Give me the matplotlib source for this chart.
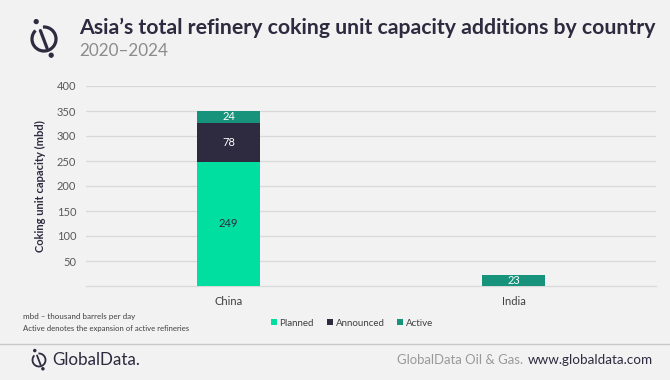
import matplotlib
matplotlib.use("Agg")
import matplotlib.pyplot as plt
from matplotlib.patches import Arc, Circle
from matplotlib.lines import Line2D

countries = ["China", "India"]
planned = [249, 0]
announced = [78, 0]
active = [24, 23]
yticks = [50, 100, 150, 200, 250, 300, 350, 400]

c_planned = "#00dea0"
c_announced = "#2e2a3f"
c_active = "#16937a"
bg = "#f2f2f2"

plt.rcParams['font.family'] = ['Lato', 'DejaVu Sans']

W, H = 670, 380
fig = plt.figure(figsize=(6.7, 3.8), dpi=100, facecolor=bg)
renderer = fig.canvas.get_renderer()

def fx(px): return px / W
def fy(py): return 1 - py / H

def fit(t, width_px):
    bb = t.get_window_extent(renderer=renderer)
    t.set_fontsize(t.get_fontsize() * width_px / bb.width)
    return t

ax = fig.add_axes([fx(86), fy(286), fx(656) - fx(86), fy(86) - fy(286)])
ax.set_facecolor(bg)
x = list(range(len(countries)))
bw = 0.22
ax.bar(x, planned, bw, color=c_planned, label="Planned", zorder=3)
ax.bar(x, announced, bw, bottom=planned, color=c_announced, label="Announced", zorder=3)
bot2 = [p + a for p, a in zip(planned, announced)]
ax.bar(x, active, bw, bottom=bot2, color=c_active, label="Active", zorder=3)

for i in x:
    if planned[i]:
        ax.text(i, planned[i] / 2, str(planned[i]), ha="center", va="center", fontsize=8, color="#2e2a3f", zorder=4)
    if announced[i]:
        ax.text(i, planned[i] + announced[i] / 2, str(announced[i]), ha="center", va="center", fontsize=8, color="white", zorder=4)
    if active[i]:
        ax.text(i, bot2[i] + active[i] / 2, str(active[i]), ha="center", va="center", fontsize=8, color="white", zorder=4)

ax.set_xlim(-0.5, 1.5)
ax.set_ylim(0, 400)
ax.set_yticks(yticks)
ax.set_yticklabels([str(v) for v in yticks], fontsize=8, color="#595959")
ax.set_xticks(x)
ax.set_xticklabels(countries, fontsize=8, color="#404040")
ax.tick_params(length=0, pad=7)
ax.grid(axis="y", color="#d9d9d9", linewidth=0.9, zorder=0)
for s in ["top", "right", "left"]:
    ax.spines[s].set_visible(False)
ax.spines["bottom"].set_color("#d9d9d9")
ax.spines["bottom"].set_linewidth(0.9)
ax.set_ylabel("Coking unit capacity (mbd)", fontsize=8, fontweight="bold", color="#2e2a3f", labelpad=8)

# title
t = fig.text(fx(79), fy(28), "Asia\u2019s total refinery coking unit capacity additions by country",
             fontsize=13, fontweight="bold", color="#2e2a3f", va="center", ha="left")
fit(t, 576)
st = fig.text(fx(79), fy(51), "2020\u20132024", fontsize=12.5, color="#8c8c8c", va="center", ha="left")
fit(st, 89)

# logo icons
axl = fig.add_axes([0, 0, 1, 1], facecolor="none")
axl.set_xlim(0, W); axl.set_ylim(H, 0); axl.axis("off")

def logo(cx, cy, r, lw, color):
    axl.add_patch(Arc((cx, cy), 2 * r, 2 * r, theta1=-95, theta2=225, color=color, lw=lw))
    axl.add_line(Line2D([cx - r * 0.3, cx + r * 0.25], [cy - r * 0.7, cy + r * 0.75], color=color, lw=lw,
                        solid_capstyle="round"))
    axl.add_patch(Circle((cx - r * 0.65, cy - r * 1.45), r * 0.16, color=color))
    axl.add_patch(Circle((cx + r * 0.6, cy + r * 1.35), r * 0.16, color=color))

logo(44, 39, 12, 2.3, "#2e2a3f")
logo(39, 360, 6.5, 1.3, "#2e2a3f")

# notes
n1 = fig.text(fx(23), fy(317), "mbd \u2013 thousand barrels per day", fontsize=5.5, color="#404040", va="center")
fit(n1, 112)
n2 = fig.text(fx(23), fy(328), "Active denotes the expansion of active refineries", fontsize=5.5, color="#404040", va="center")
fit(n2, 165)

# legend
fig.legend(loc="center", bbox_to_anchor=(fx(352), fy(323)), ncol=3, frameon=False,
           fontsize=7, handlelength=0.6, handleheight=0.6, handletextpad=0.3, columnspacing=1.3,
           labelcolor="#404040")

# separator
fig.add_artist(Line2D([0, 1], [fy(344), fy(344)], color="#c8c8c8", lw=1))

# footer
gt = fig.text(fx(52), fy(360), "GlobalData.", fontsize=11, color="#2e2a3f", va="center")
fit(gt, 88)
wt = fig.text(fx(653), fy(360), "www.globaldata.com", fontsize=10, color="#2e2a3f", va="center", ha="right")
fit(wt, 125)
ot = fig.text(fx(523), fy(360), "GlobalData Oil & Gas.", fontsize=10, color="#999999", va="center", ha="right")
fit(ot, 126)

fig.savefig("out.png", dpi=100, facecolor=bg)
